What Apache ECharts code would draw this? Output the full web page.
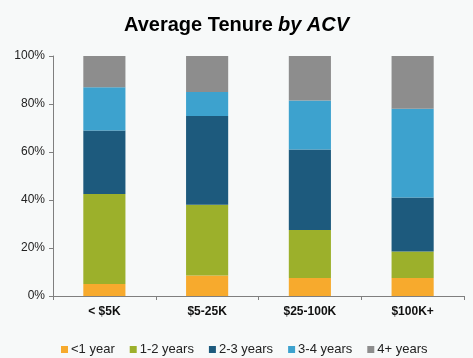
<!DOCTYPE html>
<html>
<head>
<meta charset="utf-8">
<script src="https://cdn.jsdelivr.net/npm/echarts@6/dist/echarts.min.js"></script>
<style>html,body{margin:0;padding:0;background:#f7f9f9;}#c{width:473px;height:358px;}</style>
</head>
<body>
<div id="c"></div>
<script>
var categories = ['< $5K', '$5-25K', '$25-100K', '$100K+'];
var seriesNames = ['<1 year', '1-2 years', '2-3 years', '3-4 years', '4+ years'];
var lessThan1 = [5, 8.5, 7.5, 7.5];
var oneToTwo = [37.5, 29.5, 20, 11];
var twoToThree = [26.5, 37, 33.5, 22.5];
var threeToFour = [18, 10, 20.5, 37];
var fourPlus = [13, 15, 18.5, 22];
var yTicks = [0, 20, 40, 60, 80, 100];
var colors = ['#f7aa2d', '#9cb02b', '#1d5a7d', '#3da2ce', '#8d8d8d'];
var seriesData = [lessThan1, oneToTwo, twoToThree, threeToFour, fourPlus];

var chart = echarts.init(document.getElementById('c'));
chart.setOption({
  backgroundColor: '#f7f9f9',
  animation: false,
  title: {
    text: '{b|Average Tenure} {i|by ACV}',
    left: 'center',
    top: 10,
    textStyle: {
      rich: {
        b: {fontFamily: 'Liberation Sans', fontWeight: 'bold', fontSize: 20, color: '#000'},
        i: {fontFamily: 'Liberation Sans', fontStyle: 'italic', fontSize: 20, color: '#000'}
      }
    }
  },
  legend: {
    top: 338,
    left: 56,
    itemWidth: 7,
    itemHeight: 7,
    itemGap: 15,
    icon: 'rect',
    textStyle: {fontFamily: 'Liberation Sans', fontSize: 13, color: '#222', padding: [0, 0, 0, -2]},
    data: seriesNames
  },
  grid: {left: 53, right: 9, top: 56, bottom: 62},
  xAxis: {
    type: 'category',
    data: categories,
    axisLine: {lineStyle: {color: '#7f7f7f'}},
    axisTick: {show: true, alignWithLabel: false, length: 4, lineStyle: {color: '#7f7f7f'}},
    axisLabel: {fontFamily: 'Liberation Sans', fontWeight: 'bold', fontSize: 12, color: '#111', margin: 10}
  },
  yAxis: {
    type: 'value',
    min: 0, max: 100, interval: 20,
    axisLine: {show: true, lineStyle: {color: '#7f7f7f'}},
    axisTick: {show: true, length: 4, lineStyle: {color: '#7f7f7f'}},
    splitLine: {show: false},
    axisLabel: {fontFamily: 'Liberation Sans', fontSize: 12, color: '#222', margin: 8,
      formatter: function (v) { return yTicks.indexOf(v) >= 0 ? v + '%' : ''; }}
  },
  series: seriesNames.map(function (n, i) {
    return {
      name: n, type: 'bar', stack: 'total', barWidth: '41%',
      itemStyle: {color: colors[i]},
      data: seriesData[i]
    };
  })
});
</script>
</body>
</html>
